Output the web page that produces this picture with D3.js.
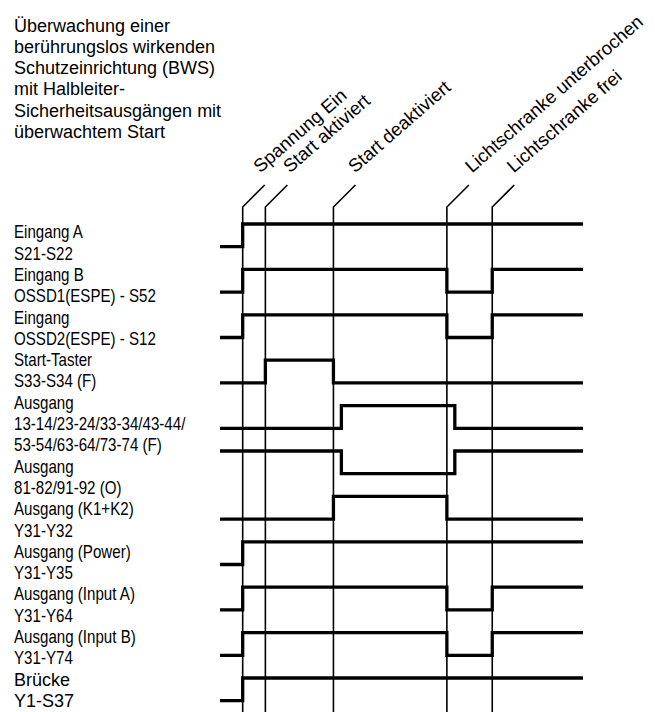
<!DOCTYPE html>
<html>
<head>
<meta charset="utf-8">
<script src="https://cdn.jsdelivr.net/npm/d3@7/dist/d3.min.js"></script>
<style>
  html, body { margin: 0; padding: 0; background: #fff; }
  svg { display: block; }
</style>
</head>
<body>
<script>
// ---------- data ----------
const titleLines = [
  "Überwachung einer",
  "berührungslos wirkenden",
  "Schutzeinrichtung (BWS)",
  "mit Halbleiter-",
  "Sicherheitsausgängen mit",
  "überwachtem Start"
];

const eventLabels = ["Spannung Ein", "Start aktiviert", "Start deaktiviert", "Lichtschranke unterbrochen", "Lichtschranke frei"];
const eventTimes  = [10, 20, 50, 100, 120];

const signalNames = [
  ["Eingang A", "S21-S22"],
  ["Eingang B", "OSSD1(ESPE) - S52"],
  ["Eingang", "OSSD2(ESPE) - S12"],
  ["Start-Taster", "S33-S34 (F)"],
  ["Ausgang", "13-14/23-24/33-34/43-44/", "53-54/63-64/73-74 (F)"],
  ["Ausgang", "81-82/91-92 (O)"],
  ["Ausgang (K1+K2)", "Y31-Y32"],
  ["Ausgang (Power)", "Y31-Y35"],
  ["Ausgang (Input A)", "Y31-Y64"],
  ["Ausgang (Input B)", "Y31-Y74"],
  ["Brücke", "Y1-S37"]
];
// initial level of each signal and the times at which it toggles
const signalStart = [0, 0, 0, 0, 0, 1, 0, 0, 0, 0, 0];
const signalToggles = [
  [10],
  [10, 100, 120],
  [10, 100, 120],
  [20, 50],
  [53.5, 103.5],
  [53.5, 103.5],
  [50, 100],
  [10],
  [10, 100, 120],
  [10, 100, 120],
  [10]
];
const timeDomain = [0, 160];

// ---------- layout ----------
const W = 655, H = 712;
const svg = d3.select("body").append("svg").attr("width", W).attr("height", H);

const x = d3.scaleLinear().domain(timeDomain).range([220, 583]);
const rowY = d3.scaleLinear().domain([0, signalNames.length - 1]).range([224, 678]);
const amp = 22.7;
const yOf = (row, level) => rowY(row) + (1 - level) * amp;

const sansFont = "'Liberation Sans', Arial, Helvetica, sans-serif";

// title
svg.append("g").selectAll("text").data(titleLines).join("text")
  .attr("x", 14).attr("y", (d, i) => 31.5 + i * 21.3)
  .attr("font-family", sansFont).attr("font-size", 18)
  .attr("fill", "#000").text(d => d);

// signal labels (uniform line pitch, condensed except the last one)
const labelLines = [];
signalNames.forEach((lines, r) => lines.forEach(t => labelLines.push({ t, r })));
const lineY = d3.scaleLinear().domain([0, labelLines.length - 1]).range([238.3, 706.9]);
svg.append("g").selectAll("text").data(labelLines).join("text")
  .attr("transform", (d, i) => `translate(14,${lineY(i)}) scale(${d.r === signalNames.length - 1 ? 1 : 0.84},1)`)
  .attr("font-family", sansFont)
  .attr("font-size", 18)
  .attr("fill", "#000").text(d => d.t);

// event marker lines
const topY = 207, bendY = 185, bendDX = 22;
const labelNudge = [-4.5, 2.5, -0.5, 3, -0.5];   // small horizontal shifts of the slanted captions
const ev = svg.append("g");
ev.selectAll("path").data(eventTimes).join("path")
  .attr("d", t => `M${x(t) + bendDX},${bendY}L${x(t)},${topY}L${x(t)},${H}`)
  .attr("fill", "none").attr("stroke", "#000").attr("stroke-width", 1.6);

ev.selectAll("text").data(eventLabels).join("text")
  .attr("transform", (d, i) => `translate(${x(eventTimes[i]) + bendDX + labelNudge[i]},173.5) rotate(-41)`)
  .attr("font-family", sansFont).attr("font-size", 18.5)
  .attr("fill", "#000").text(d => d);

// signal traces
const line = d3.line().x(d => x(d[0])).y(d => d[1]).curve(d3.curveLinear);
svg.append("g").selectAll("path").data(signalNames).join("path")
  .attr("d", (d, r) => {
    let lvl = signalStart[r];
    const pts = [[timeDomain[0], yOf(r, lvl)]];
    signalToggles[r].forEach(t => {
      pts.push([t, yOf(r, lvl)]);
      lvl = 1 - lvl;
      pts.push([t, yOf(r, lvl)]);
    });
    pts.push([timeDomain[1], yOf(r, lvl)]);
    return line(pts);
  })
  .attr("fill", "none").attr("stroke", "#000").attr("stroke-width", 3.3)
  .attr("stroke-linejoin", "miter").attr("stroke-linecap", "butt");
</script>
</body>
</html>
